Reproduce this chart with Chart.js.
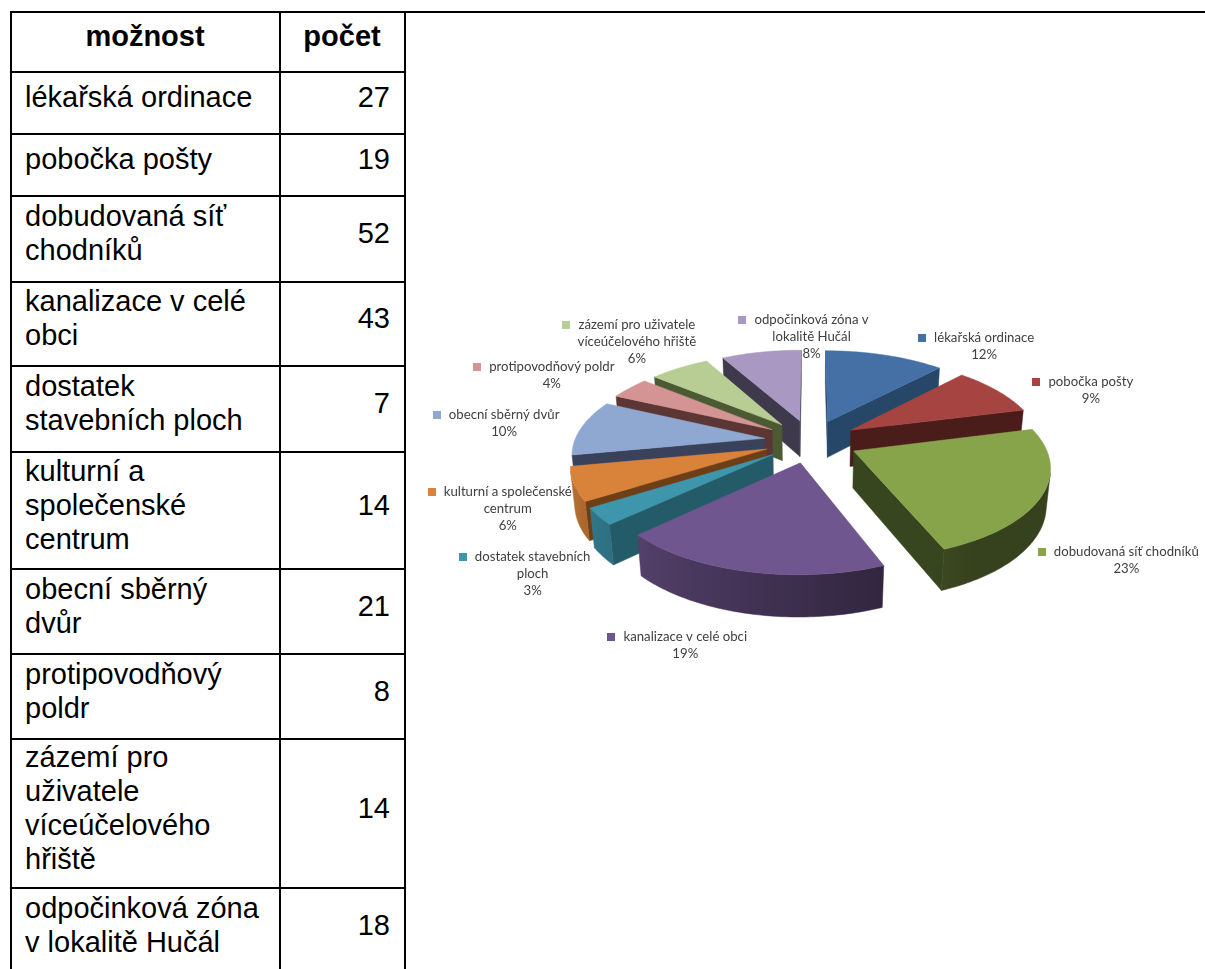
<!DOCTYPE html>
<html lang="cs">
<head>
<meta charset="utf-8">
<title>možnost / počet</title>
<script src="https://cdn.jsdelivr.net/npm/chart.js@4.4.1/dist/chart.umd.min.js"></script>
<style>
  html, body { margin: 0; padding: 0; background: #fff; width: 1205px; height: 969px; overflow: hidden; }
  #topRule { position: absolute; left: 10px; top: 11px; width: 1195px; height: 2px; background: #000; }
  #tbl { position: absolute; left: 10px; top: 11px; border-collapse: collapse; table-layout: fixed; width: 396px;
         font-family: "Liberation Sans", Arial, sans-serif; font-size: 29px; line-height: 34px; color: #000; }
  #tbl th, #tbl td { border: 2px solid #000; padding: 0 14px 0 13px; vertical-align: middle; }
  #tbl th { font-weight: bold; text-align: center; }
  #tbl td.num { text-align: right; }
  #chart { position: absolute; left: 406px; top: 13px; }
</style>
</head>
<body>
<div id="topRule"></div>
<table id="tbl"></table>
<canvas id="chart" width="799" height="856"></canvas>
<script>
// ---- data ----
const headers = ['možnost', 'počet'];
const categories = [
  'lékařská ordinace',
  'pobočka pošty',
  'dobudovaná síť chodníků',
  'kanalizace v celé obci',
  'dostatek stavebních ploch',
  'kulturní a společenské centrum',
  'obecní sběrný dvůr',
  'protipovodňový poldr',
  'zázemí pro uživatele víceúčelového hřiště',
  'odpočinková zóna v lokalitě Hučál'
];
const counts = [27, 19, 52, 43, 7, 14, 21, 8, 14, 18];
// share of answers in percent, as stated on the pie labels
const sharePercent = [12, 9, 23, 19, 3, 6, 10, 4, 6, 8];
// wrapped data-label text used on the pie
const pieLabelLines = [
  ['lékařská ordinace'],
  ['pobočka pošty'],
  ['dobudovaná síť chodníků'],
  ['kanalizace v celé obci'],
  ['dostatek stavebních', 'ploch'],
  ['kulturní a společenské', 'centrum'],
  ['obecní sběrný dvůr'],
  ['protipovodňový poldr'],
  ['zázemí pro uživatele', 'víceúčelového hřiště'],
  ['odpočinková zóna v', 'lokalitě Hučál']
];

// ---- styling / layout ----
const topColors = ['#4470A6', '#A64442', '#88A44A', '#70568F', '#3E96AD', '#D9823A', '#8FA8D2', '#D39493', '#B8CD94', '#A998C2'];
const cutColors = ['#274769', '#4A1C1A', '#37461F', '#3E2F55', '#245B69', '#6E3F16', '#39425A', '#5B3635', '#4C5A34', '#3E3A4C'];
const labelNudge = [[83, 10], [50, 12], [15, 49], [-40, 28], [0, 34], [3, 12], [-18, -1], [-35, 0], [-13, -10], [61, 4]];
const rowPitch = [60, 62, 62, 86, 84, 86, 117, 85, 85, 149, 86];
const view = { sinE: 0.459, cosE: 0.888, dist: 1099, depth: 42, labelR: 300 };

// ---- table ----
(function buildTable() {
  const tbl = document.getElementById('tbl');
  let html = '<colgroup><col style="width:269px"><col style="width:125px"></colgroup>';
  html += '<tr><th><div>' + headers[0] + '</div></th><th><div>' + headers[1] + '</div></th></tr>';
  categories.forEach((c, i) => {
    html += '<tr><td class="name"><div>' + c + '</div></td><td class="num"><div>' + counts[i] + '</div></td></tr>';
  });
  tbl.innerHTML = html;
  // text block sits a little above the middle of each row
  Array.from(tbl.rows).forEach((row, r) => {
    const textH = row.cells[0].firstChild.offsetHeight;
    const free = Math.max(0, rowPitch[r] - 2 - textH);
    const pt = Math.max(0, Math.round((free - 12) / 2));
    const pb = free - pt;
    Array.from(row.cells).forEach(cell => {
      cell.style.paddingTop = pt + 'px';
      cell.style.paddingBottom = pb + 'px';
    });
  });
})();

// ---- 3D pie helpers ----
const camH = view.dist * view.sinE, camV = -view.dist * view.cosE;

function project(cx, cy, u, v, h) {
  const yc = h * view.cosE + v * view.sinE;
  const d = v * view.cosE - h * view.sinE;
  const s = view.dist / (view.dist + d);
  return [cx + s * u, cy - s * yc];
}
function camDist(u, h, v) {
  return Math.hypot(u, h - camH, v - camV);
}
function shade(hex, f) {
  const n = parseInt(hex.slice(1), 16);
  const r = Math.round(((n >> 16) & 255) * f), g = Math.round(((n >> 8) & 255) * f), b = Math.round((n & 255) * f);
  return 'rgb(' + r + ',' + g + ',' + b + ')';
}
// light comes from the front-left: rim is brighter on the left, darker to the right
function rimFactor(thetaDeg) {
  const t = ((thetaDeg % 360) + 360) % 360;
  const k = Math.min(1, Math.max(0, (t - 150) / 100));
  return 0.4 + 0.45 * k;
}

const pie3d = {
  id: 'pie3d',
  beforeDatasetsDraw(chart) {
    const ctx = chart.ctx;
    const meta = chart.getDatasetMeta(0);
    const H = view.depth;
    const faces = [];
    const tops = [];
    meta.data.forEach((arc, i) => {
      const cx = arc.x, cy = arc.y, a0 = arc.startAngle, a1 = arc.endAngle, R = arc.outerRadius;
      const off = arc.options.offset || 0;
      const mid = (a0 + a1) / 2;
      const ou = off * Math.cos(mid), ov = -off * Math.sin(mid);
      const pt = (a, r) => [ou + r * Math.cos(a), ov - r * Math.sin(a)];
      const n = Math.max(2, Math.ceil((a1 - a0) / (Math.PI / 180)));
      const arcPts = [];
      for (let k = 0; k <= n; k++) {
        const a = a0 + (a1 - a0) * k / n;
        const p = pt(a, R);
        arcPts.push([a, p[0], p[1]]);
      }
      tops.push({ i, cx, cy, ou, ov, arcPts });

      // outer rim: collect runs of segments facing the viewer
      const runs = [];
      let cur = null;
      for (let k = 0; k < n; k++) {
        const A = arcPts[k], B = arcPts[k + 1];
        const am = (A[0] + B[0]) / 2;
        const nu = Math.cos(am), nv = -Math.sin(am);
        const mu = (A[1] + B[1]) / 2, mv = (A[2] + B[2]) / 2;
        const vis = nu * (0 - mu) + nv * (camV - mv) > 0;
        if (vis) {
          if (!cur) { cur = [k]; runs.push(cur); }
          cur.push(k + 1);
        } else {
          cur = null;
        }
      }
      runs.forEach(run => {
        const pts = run.map(k => arcPts[k]);
        const m = pts[Math.floor(pts.length / 2)];
        faces.push({ d: camDist(m[1], -H / 2, m[2]), kind: 'rim', i, cx, cy, pts });
      });

      // radial cut faces
      [[a0, 1], [a1, -1]].forEach(([a, sg]) => {
        const nu = sg * Math.sin(a), nv = sg * Math.cos(a);
        const p = pt(a, R);
        const mu = (ou + p[0]) / 2, mv = (ov + p[1]) / 2;
        if (nu * (0 - mu) + nv * (camV - mv) <= 0) return;
        faces.push({ d: camDist(mu, -H / 2, mv), kind: 'cut', i, cx, cy,
          quad: [[ou, ov, 0], [p[0], p[1], 0], [p[0], p[1], -H], [ou, ov, -H]] });
      });
    });

    faces.sort((a, b) => b.d - a.d);
    ctx.save();
    ctx.lineJoin = 'round';
    faces.forEach(f => {
      ctx.beginPath();
      if (f.kind === 'cut') {
        f.quad.forEach((q, k) => {
          const s = project(f.cx, f.cy, q[0], q[1], q[2]);
          if (k === 0) ctx.moveTo(s[0], s[1]); else ctx.lineTo(s[0], s[1]);
        });
        ctx.closePath();
        ctx.fillStyle = cutColors[f.i];
        ctx.strokeStyle = cutColors[f.i];
      } else {
        const topP = f.pts.map(p => project(f.cx, f.cy, p[1], p[2], 0));
        const botP = f.pts.map(p => project(f.cx, f.cy, p[1], p[2], -H));
        topP.forEach((s, k) => { if (k === 0) ctx.moveTo(s[0], s[1]); else ctx.lineTo(s[0], s[1]); });
        for (let k = botP.length - 1; k >= 0; k--) ctx.lineTo(botP[k][0], botP[k][1]);
        ctx.closePath();
        const x0 = topP[0][0], x1 = topP[topP.length - 1][0];
        let style;
        if (Math.abs(x1 - x0) < 1) {
          const a = f.pts[0][0];
          style = shade(topColors[f.i], rimFactor(Math.atan2(Math.cos(a), -Math.sin(a)) * 180 / Math.PI));
        } else {
          style = ctx.createLinearGradient(x0, 0, x1, 0);
          let last = 0;
          f.pts.forEach((p, k) => {
            const a = p[0];
            const th = Math.atan2(Math.cos(a), -Math.sin(a)) * 180 / Math.PI;
            let t = (topP[k][0] - x0) / (x1 - x0);
            t = Math.min(1, Math.max(last, t));
            last = t;
            style.addColorStop(t, shade(topColors[f.i], rimFactor(th)));
          });
        }
        ctx.fillStyle = style;
        ctx.strokeStyle = style;
      }
      ctx.fill();
      ctx.lineWidth = 0.5;
      ctx.stroke();
    });
    tops.forEach(t => {
      ctx.beginPath();
      const s0 = project(t.cx, t.cy, t.ou, t.ov, 0);
      ctx.moveTo(s0[0], s0[1]);
      t.arcPts.forEach(p => {
        const s = project(t.cx, t.cy, p[1], p[2], 0);
        ctx.lineTo(s[0], s[1]);
      });
      ctx.closePath();
      ctx.fillStyle = topColors[t.i];
      ctx.fill();
      ctx.strokeStyle = topColors[t.i];
      ctx.lineWidth = 0.5;
      ctx.stroke();
    });
    ctx.restore();
    return false;
  },
  afterDraw(chart) {
    const ctx = chart.ctx;
    const meta = chart.getDatasetMeta(0);
    const values = chart.data.datasets[0].data;
    const total = values.reduce((a, b) => a + b, 0);
    const lh = 17;
    ctx.save();
    ctx.font = '13.2px Lato, "Open Sans", sans-serif';
    ctx.textAlign = 'center';
    ctx.textBaseline = 'middle';
    meta.data.forEach((arc, i) => {
      const mid = (arc.startAngle + arc.endAngle) / 2;
      const r = view.labelR;
      const p = project(arc.x, arc.y, r * Math.cos(mid), -r * Math.sin(mid), 0);
      const ax = p[0] + labelNudge[i][0], ay = p[1] + labelNudge[i][1];
      const lines = pieLabelLines[i].concat([Math.round(values[i] / total * 100) + '%']);
      const y0 = ay - (lines.length - 1) / 2 * lh;
      ctx.fillStyle = '#404040';
      lines.forEach((t, k) => ctx.fillText(t, ax, y0 + k * lh));
      const w0 = ctx.measureText(lines[0]).width;
      ctx.fillStyle = topColors[i];
      ctx.fillRect(Math.round(ax - w0 / 2 - 16), Math.round(y0 - 4), 8, 8);
    });
    ctx.restore();
  }
};

function drawChart() {
  new Chart(document.getElementById('chart'), {
    type: 'pie',
    data: {
      labels: categories,
      datasets: [{ data: sharePercent, backgroundColor: topColors, borderWidth: 0, offset: 47 }]
    },
    options: {
      responsive: false,
      maintainAspectRatio: false,
      animation: false,
      devicePixelRatio: 1,
      radius: 190,
      layout: { padding: { left: 11 } },
      events: [],
      plugins: { legend: { display: false }, tooltip: { enabled: false } }
    },
    plugins: [pie3d]
  });
}
if (document.fonts && document.fonts.load) {
  document.fonts.load('13.2px Lato').then(drawChart, drawChart);
} else {
  drawChart();
}
</script>
</body>
</html>
